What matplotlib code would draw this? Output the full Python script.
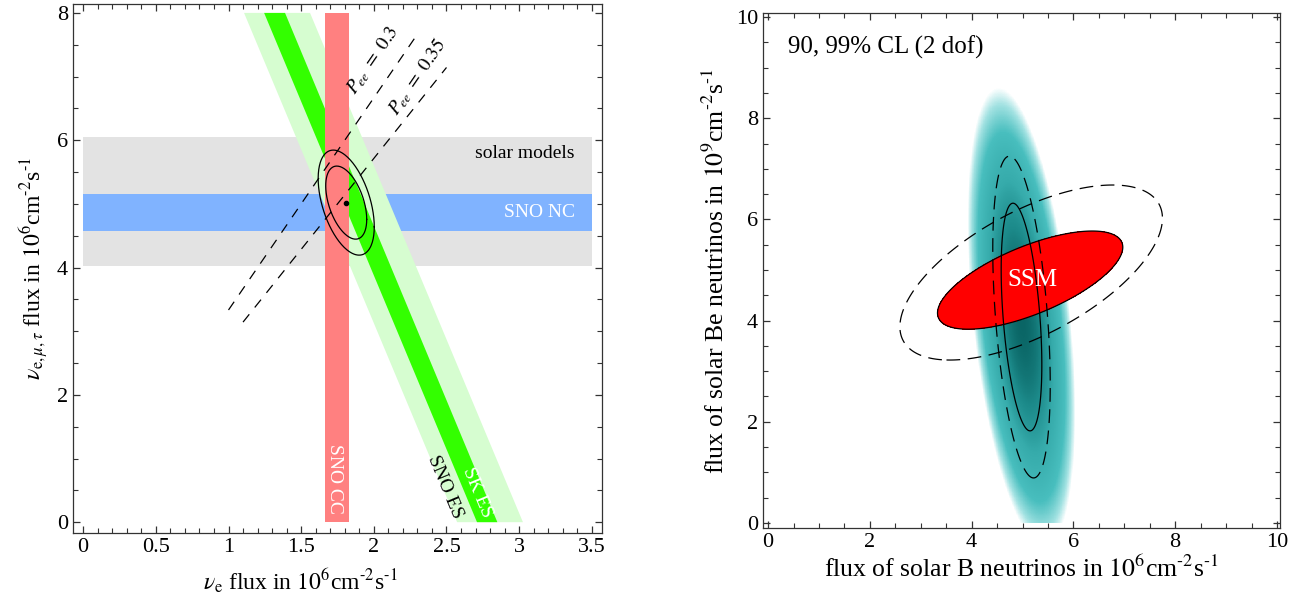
import numpy as np
import matplotlib.pyplot as plt
from matplotlib.colors import LinearSegmentedColormap
from matplotlib.ticker import MultipleLocator, FormatStrFormatter

plt.rcParams['font.family'] = ['Liberation Serif', 'DejaVu Serif']
plt.rcParams['mathtext.fontset'] = 'stix'

# ---- left panel data ----
solar_models_y = [4.03, 6.05]
sno_nc_y = [4.58, 5.16]
sno_cc_x = [1.665, 1.83]
band_x = [0.0, 3.5]
band_y = [0.0, 8.0]
# slanted ES bands: x of both edges at y=0 and at y=8
sno_es_bottom = [2.573, 3.026]
sno_es_top = [1.107, 1.561]
sk_es_bottom = [2.71, 2.85]
sk_es_top = [1.245, 1.389]
# P_ee lines (phi_e = P_ee * phi_tot)
pee_values = [0.3, 0.35]
pee_x_start = [1.0, 1.1]
pee_x_end = [2.28, 2.5]
pee_labels = [r'$P_{ee}\ =\ 0.3$', r'$P_{ee}\ =\ 0.35$']
pee_label_pos = [(1.995, 7.26), (2.30, 7.00)]
# best fit and CL contours
best_fit = (1.81, 5.02)
contour_sx = [0.141, 0.193]
contour_sy = [0.574, 0.825]
contour_rho = -0.46

# ---- right panel data ----
b_center = (4.98, 4.07)
b_sigma = (0.186, 1.048)
b_rho = -0.42
shade_center = (4.98, 4.07)
shade_sigma = (0.245, 1.048)
shade_max = 18.7
ssm_center = (5.15, 4.80)
ssm_sigma = (0.848, 0.452)
ssm_rho = 0.67
ssm99_center = (5.17, 4.95)
ssm99_sigma = (0.85, 0.57)
ssm99_rho = 0.62
cl_levels = [4.61, 9.21]   # 90%, 99% for 2 dof

unit = r'$10^{%d}$cm$^{\text{-}2}$s$^{\text{-}1}$'


def chi2(X, Y, c, s, r):
    u = (X - c[0]) / s[0]
    v = (Y - c[1]) / s[1]
    return (u * u - 2 * r * u * v + v * v) / (1 - r * r)


def style_axes(ax, xmaj, xmin, ymaj, ymin):
    ax.xaxis.set_major_locator(MultipleLocator(xmaj))
    ax.xaxis.set_minor_locator(MultipleLocator(xmin))
    ax.yaxis.set_major_locator(MultipleLocator(ymaj))
    ax.yaxis.set_minor_locator(MultipleLocator(ymin))
    ax.xaxis.set_major_formatter(FormatStrFormatter('%g'))
    ax.yaxis.set_major_formatter(FormatStrFormatter('%g'))
    ax.tick_params(which='both', direction='in', top=True, right=True,
                   labelsize=16, color='#333333')
    ax.tick_params(which='major', length=5, width=0.9)
    ax.tick_params(which='minor', length=3.5, width=0.8)
    for sp in ax.spines.values():
        sp.set_color('#333333')
        sp.set_linewidth(0.9)


fig = plt.figure(figsize=(13.01, 6.02), dpi=100)
W, H = 1301, 602
ax1 = fig.add_axes([73 / W, (H - 533) / H, (602 - 73) / W, (533 - 4) / H])
ax2 = fig.add_axes([763 / W, (H - 528) / H, (1280 - 763) / W, (528 - 13) / H])

# ---------- left panel ----------
ax1.fill_between(band_x, solar_models_y[0], solar_models_y[1], color='#e3e3e3', lw=0)
ax1.fill_between(band_x, sno_nc_y[0], sno_nc_y[1], color='#80b3ff', lw=0)
ax1.fill([sno_es_bottom[0], sno_es_bottom[1], sno_es_top[1], sno_es_top[0]],
         [band_y[0], band_y[0], band_y[1], band_y[1]], color='#d6fdd0', lw=0)
ax1.fill([sk_es_bottom[0], sk_es_bottom[1], sk_es_top[1], sk_es_top[0]],
         [band_y[0], band_y[0], band_y[1], band_y[1]], color='#33ff00', lw=0)
ax1.fill_betweenx(band_y, sno_cc_x[0], sno_cc_x[1], color='#ff8080', lw=0)

for p, x0, x1 in zip(pee_values, pee_x_start, pee_x_end):
    ax1.plot([x0, x1], [x0 / p, x1 / p], color='k', lw=0.9, ls=(0, (8, 7)))
for lab, (tx, ty) in zip(pee_labels, pee_label_pos):
    ax1.text(tx, ty, lab, rotation=55.6, ha='center', va='center', fontsize=14,
             rotation_mode='anchor')

t = np.linspace(0, 2 * np.pi, 200)
phi = np.arccos(contour_rho)
for sx, sy in zip(contour_sx, contour_sy):
    ax1.plot(best_fit[0] + sx * np.cos(t), best_fit[1] + sy * np.cos(t + phi),
             color='k', lw=0.9)
ax1.plot(*best_fit, 'o', color='k', ms=3)

ax1.text(3.04, 5.79, 'solar models', ha='center', va='center', fontsize=14)
ax1.text(3.14, 4.87, 'SNO NC', ha='center', va='center', fontsize=14, color='white')
ax1.text(1.73, 0.68, 'SNO CC', ha='center', va='center', fontsize=14, color='white',
         rotation=-90)
ax1.text(2.49, 0.55, 'SNO ES', ha='center', va='center', fontsize=14, rotation=-67.3)
ax1.text(2.71, 0.47, 'SK ES', ha='center', va='center', fontsize=14, color='white',
         rotation=-67.3)

ax1.set_xlim(-0.07, 3.57)
ax1.set_ylim(-0.17, 8.14)
style_axes(ax1, 0.5, 0.1, 2, 0.5)
ax1.set_xlabel(r'$\nu_{\rm e}$ flux in ' + unit % 6, fontsize=17)
ax1.xaxis.set_label_coords((300 - 73) / 529, -0.063)
ax1.set_ylabel(r'$\nu_{{\rm e},\mu,\tau}$ flux in ' + unit % 6, fontsize=17,
               labelpad=4)

# ---------- right panel ----------
gx = np.linspace(3.0, 7.0, 500)
gy = np.linspace(0.0, 10.0, 900)
GX, GY = np.meshgrid(gx, gy)
CB = chi2(GX, GY, b_center, b_sigma, b_rho)
CSh = chi2(GX, GY, shade_center, shade_sigma, b_rho)
teal = LinearSegmentedColormap.from_list(
    'teal', [(0.0, '#0a6565'), (0.15, '#1c8a8a'), (0.35, '#36abab'),
             (0.65, '#48bebe'), (0.86, '#a3e2e2'), (1.0, '#ffffff')])
ax2.pcolormesh(GX, GY, np.ma.masked_greater(CSh, shade_max), cmap=teal,
               vmin=0, vmax=shade_max, shading='auto', rasterized=True)
ax2.contour(GX, GY, CB, levels=[cl_levels[0]], colors='k', linewidths=0.9)
ax2.contour(GX, GY, CB, levels=[cl_levels[1]], colors='k', linewidths=0.9,
            linestyles=[(0, (11, 6))])

sx = np.linspace(1.5, 9.0, 600)
sy = np.linspace(2.0, 8.0, 500)
SX, SY = np.meshgrid(sx, sy)
CS = chi2(SX, SY, ssm_center, ssm_sigma, ssm_rho)
CS99 = chi2(SX, SY, ssm99_center, ssm99_sigma, ssm99_rho)
ax2.contour(SX, SY, CS99, levels=[cl_levels[1]], colors='k', linewidths=0.9,
            linestyles=[(0, (11, 6))])
ax2.contourf(SX, SY, CS, levels=[0, cl_levels[0]], colors=['#ff0000'])
ax2.contour(SX, SY, CS, levels=[cl_levels[0]], colors='k', linewidths=0.9)
ax2.text(5.2, 4.8, 'SSM', ha='center', va='center', fontsize=18, color='white')

ax2.text(0.39, 9.41, '90, 99% CL (2 dof)', ha='left', va='center', fontsize=18)

ax2.set_xlim(-0.1, 10.06)
ax2.set_ylim(-0.1, 10.08)
style_axes(ax2, 2, 0.5, 2, 0.5)
ax2.set_xlabel('flux of solar B neutrinos in ' + unit % 6, fontsize=18.5, labelpad=3)
ax2.set_ylabel('flux of solar Be neutrinos in ' + unit % 9, fontsize=18.5, labelpad=5)

fig.savefig('out.png', dpi=100)
